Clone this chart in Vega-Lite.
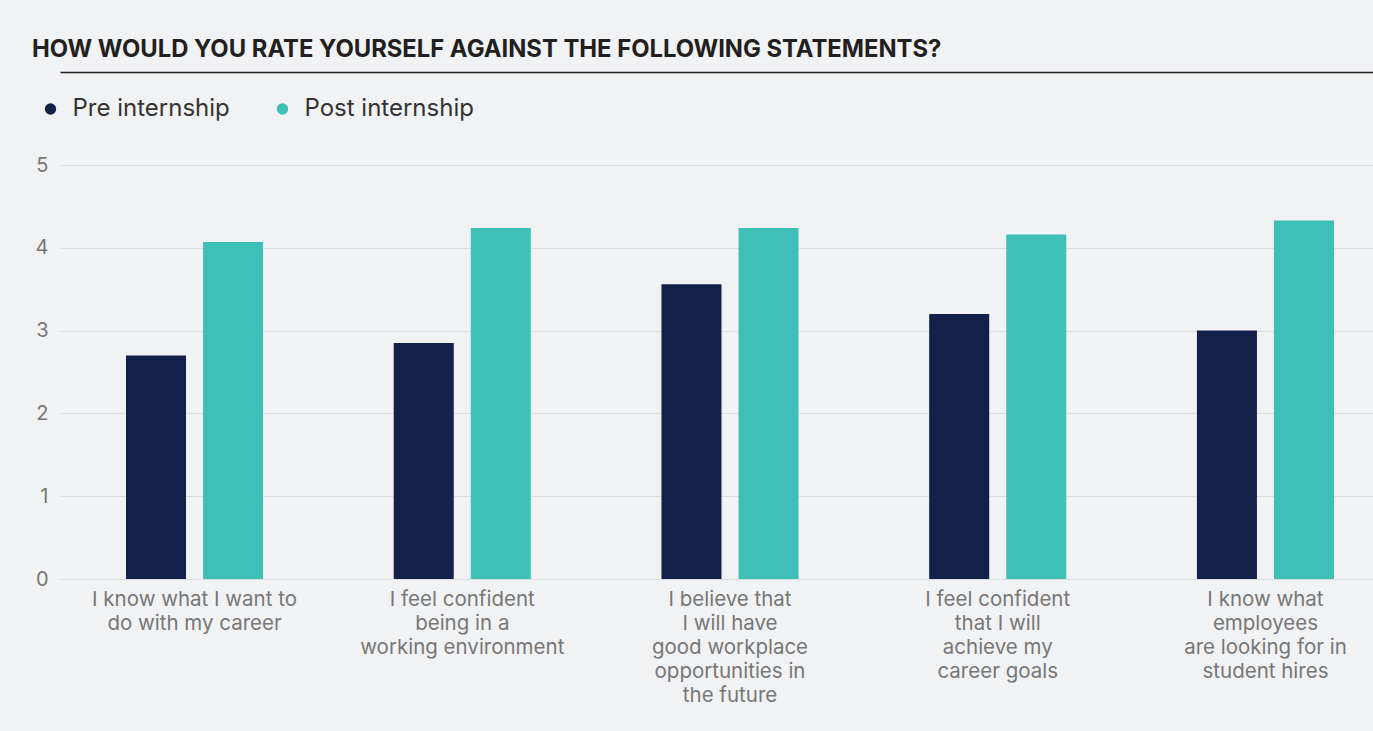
{
  "$schema": "https://vega.github.io/schema/vega-lite/v6.json",
  "autosize": {"type": "none"},
  "width": 1313,
  "height": 414,
  "padding": {"left": 60, "top": 165, "right": 0, "bottom": 152},
  "background": "#f1f2f4",
  "title": {
    "text": "HOW WOULD YOU RATE YOURSELF AGAINST THE FOLLOWING STATEMENTS?",
    "anchor": "start",
    "frame": "group",
    "dx": -28,
    "offset": 10,
    "font": "Inter",
    "fontSize": 23.8,
    "fontWeight": "bold",
    "color": "#231f20"
  },
  "data": {
    "values": [
      {"statement": "I know what I want to|do with my career", "series": "Pre internship", "value": 2.7},
      {"statement": "I know what I want to|do with my career", "series": "Post internship", "value": 4.07},
      {"statement": "I feel confident|being in a|working environment", "series": "Pre internship", "value": 2.85},
      {"statement": "I feel confident|being in a|working environment", "series": "Post internship", "value": 4.24},
      {"statement": "I believe that|I will have|good workplace|opportunities in|the future", "series": "Pre internship", "value": 3.56},
      {"statement": "I believe that|I will have|good workplace|opportunities in|the future", "series": "Post internship", "value": 4.24},
      {"statement": "I feel confident|that I will|achieve my|career goals", "series": "Pre internship", "value": 3.2},
      {"statement": "I feel confident|that I will|achieve my|career goals", "series": "Post internship", "value": 4.16},
      {"statement": "I know what|employees|are looking for in|student hires", "series": "Pre internship", "value": 3.0},
      {"statement": "I know what|employees|are looking for in|student hires", "series": "Post internship", "value": 4.33}
    ]
  },
  "encoding": {
    "x": {
      "field": "statement",
      "type": "nominal",
      "sort": null,
      "scale": {"range": [0, 1340], "paddingInner": 0.488, "paddingOuter": 0.2465}
    },
    "xOffset": {
      "field": "series",
      "type": "nominal",
      "sort": ["Pre internship", "Post internship"],
      "scale": {"paddingInner": 0.221, "paddingOuter": 0}
    },
    "y": {
      "field": "value",
      "type": "quantitative",
      "scale": {"domain": [0, 5], "nice": false},
      "axis": {
        "values": [0, 1, 2, 3, 4, 5],
        "title": null,
        "domain": false,
        "ticks": false,
        "grid": true,
        "gridColor": "#dcdde0",
        "gridWidth": 1,
        "labelFont": "Inter",
        "labelFontSize": 20,
        "labelColor": "#777777",
        "labelPadding": 12
      }
    }
  },
  "layer": [
    {
      "mark": {"type": "bar"},
      "encoding": {
        "x": {
          "field": "statement",
          "type": "nominal",
          "sort": null,
          "axis": {
            "orient": "bottom",
            "title": null,
            "domain": false,
            "ticks": false,
            "labelAngle": 0,
            "labelExpr": "split(datum.label, '|')",
            "labelFont": "Inter",
            "labelFontSize": 20.5,
            "labelColor": "#777777",
            "labelLineHeight": 24,
            "labelPadding": 10,
            "labelLimit": 0
          }
        },
        "color": {
          "field": "series",
          "type": "nominal",
          "sort": ["Pre internship", "Post internship"],
          "scale": {"domain": ["Pre internship", "Post internship"], "range": ["#13204a", "#3ebfb8"]},
          "legend": {
            "title": null,
            "orient": "none",
            "direction": "horizontal",
            "legendX": -21.5,
            "legendY": -68,
            "padding": 0,
            "symbolType": "circle",
            "symbolSize": 130,
            "symbolStrokeWidth": 0,
            "symbolOpacity": 1,
            "labelFont": "Inter",
            "labelFontSize": 24,
            "labelColor": "#333333",
            "labelOffset": 10,
            "columnPadding": 40,
            "labelLimit": 0
          }
        }
      }
    },
    {
      "mark": {"type": "bar", "opacity": 0},
      "encoding": {
        "x": {
          "field": "statement",
          "type": "nominal",
          "sort": null,
          "axis": {
            "orient": "top",
            "title": null,
            "labels": false,
            "ticks": false,
            "grid": false,
            "domain": true,
            "domainColor": "#231f20",
            "domainWidth": 1.5,
            "offset": 93
          }
        }
      }
    }
  ],
  "resolve": {"axis": {"x": "independent"}},
  "config": {
    "view": {"stroke": null},
    "font": "Inter"
  }
}
